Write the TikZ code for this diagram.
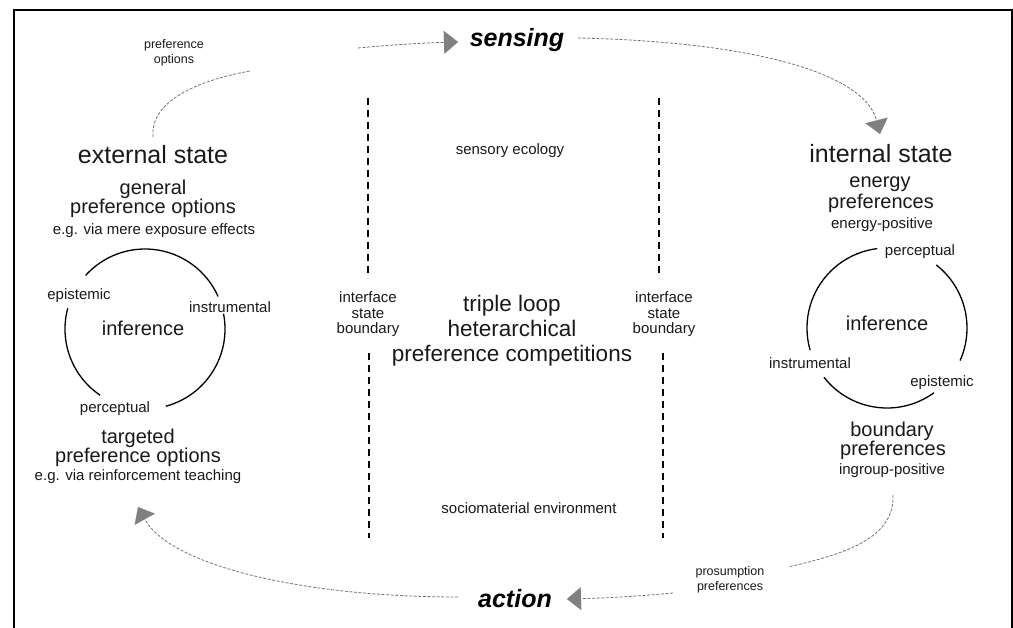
\documentclass[tikz,border=0pt]{standalone}
\usepackage{fontspec}
\setmainfont{Liberation Sans}
\usetikzlibrary{arrows.meta}
\begin{document}
\begin{tikzpicture}[x=1pt,y=-1pt,
  txt/.style={inner sep=0pt, anchor=base, text=black!90},
  big/.style={txt, font=\fontsize{25}{30}\selectfont},
  mid/.style={txt, font=\fontsize{20}{24}\selectfont},
  sml/.style={txt, font=\fontsize{15}{18}\selectfont},
  tny/.style={txt, font=\fontsize{12.5}{15}\selectfont},
  verb/.style={txt, font=\fontsize{25}{30}\selectfont\bfseries\itshape, text=black},
  flow/.style={draw=black!55, line width=0.8pt, dash pattern=on 3pt off 1.6pt},
  flowarrow/.style={flow, -{Triangle[length=14pt,width=23pt,color=black!50,fill=black!50,line width=0.1pt]}},
  ring/.style={line width=1.3pt},
  bndline/.style={line width=2pt, dash pattern=on 7pt off 5pt}
]
\useasboundingbox (0,0) rectangle (1013,628);
% frame
\draw[line width=1.5pt] (14,628) -- (14,10) -- (1012,10) -- (1012,628);

% main verbs
\node[verb] (sensing) at (517,47) {sensing};
\node[verb] (action) at (515,607) {action};

% connector labels
\node[tny] (po1) at (174,49) {preference};
\node[tny] (po2) at (174,64) {options};
\node[tny] (pp1) at (730,575) {prosumption};
\node[tny] (pp2) at (730,590) {preferences};

% left column
\node[big] (ext) at (153,164) {external state};
\node[mid] (gen1) at (153,195) {general};
\node[mid] (gen2) at (153,214) {preference options};
\node[sml] (gen3) at (154,235) {e.g. via mere exposure effects};
\node[mid] (tar1) at (138,443) {targeted};
\node[mid] (tar2) at (138,463) {preference options};
\node[sml] (tar3) at (138,480) {e.g. via reinforcement teaching};

% left inference ring
\coordinate (lc) at (145,329);
\draw[ring] (lc) ++(-24:80) arc[start angle=-24, end angle=-138, radius=80];
\draw[ring] (lc) ++(-165:80) arc[start angle=-165, end angle=-236, radius=80];
\draw[ring] (lc) ++(75:80) arc[start angle=75, end angle=-11, radius=80];
\node[mid] (linf) at (143,336) {inference};
\node[sml] (lepi) at (79,300) {epistemic};
\node[sml] (lins) at (230,313) {instrumental};
\node[sml] (lper) at (115,413) {perceptual};

% right column
\node[big] (int) at (881,163) {internal state};
\node[mid] (en1) at (880,188) {energy};
\node[mid] (en2) at (881,209) {preferences};
\node[sml] (en3) at (882,229) {energy-positive};
\node[mid] (bd1) at (892,437) {boundary};
\node[mid] (bd2) at (893,456) {preferences};
\node[sml] (bd3) at (892,475) {ingroup-positive};

% right inference ring
\coordinate (rc) at (887,328);
\draw[ring] (rc) ++(-97:80) arc[start angle=-97, end angle=-196, radius=80];
\draw[ring] (rc) ++(-218:80) arc[start angle=-218, end angle=-306, radius=80];
\draw[ring] (rc) ++(24:80) arc[start angle=24, end angle=-52, radius=80];
\node[mid] (rinf) at (887,331) {inference};
\node[sml] (rper) at (920,256) {perceptual};
\node[sml] (rins) at (810,369) {instrumental};
\node[sml] (repi) at (942,387) {epistemic};

% centre
\node[sml] (eco) at (510,155) {sensory ecology};
\node[sml] (soc) at (529,513) {sociomaterial environment};
\node[mid, font=\fontsize{22.5}{27}\selectfont] (tl1) at (512,312) {triple loop};
\node[mid, font=\fontsize{22.5}{27}\selectfont] (tl2) at (512,337) {heterarchical};
\node[mid, font=\fontsize{22.5}{27}\selectfont] (tl3) at (512,362) {preference competitions};
\node[sml] (li1) at (368,303) {interface};
\node[sml] (li2) at (368,319) {state};
\node[sml] (li3) at (368,334) {boundary};
\node[sml] (ri1) at (664,303) {interface};
\node[sml] (ri2) at (664,319) {state};
\node[sml] (ri3) at (664,334) {boundary};

% interface boundaries
\coordinate (lbt) at (368,98);  \coordinate (lbm) at (368,278);
\coordinate (lbn) at (369,353); \coordinate (lbb) at (369,538);
\coordinate (rbt) at (659,98);  \coordinate (rbm) at (659,278);
\coordinate (rbn) at (663,353); \coordinate (rbb) at (663,538);
\draw[bndline] (lbt) -- (lbm);
\draw[bndline] (lbn) -- (lbb);
\draw[bndline] (rbt) -- (rbm);
\draw[bndline] (rbn) -- (rbb);

% flow connectors
\coordinate (e0) at (153,137);
\coordinate (e1) at (250,71);
\coordinate (e2) at (358,48);
\coordinate (e3) at (458,42);
\draw[flow] (e0) .. controls (150,100) and (200,80) .. (e1);
\draw[flowarrow] (e2) .. controls (390,45) and (420,43) .. (e3);

\coordinate (s0) at (578,38);
\coordinate (s1) at (880,134);
\draw[flowarrow] (s0) .. controls (760,42) and (865,75) .. (s1);

\coordinate (b0) at (893,495);
\coordinate (b1) at (788,567);
\coordinate (b2) at (673,593);
\coordinate (b3) at (567,599);
\draw[flow] (b0) .. controls (895,540) and (840,555) .. (b1);
\draw[flowarrow] (b2) .. controls (640,596) and (610,598) .. (b3);

\coordinate (a0) at (458,597);
\coordinate (a1) at (138,507);
\draw[flowarrow] (a0) .. controls (300,597) and (170,565) .. (a1);
\end{tikzpicture}
\end{document}
